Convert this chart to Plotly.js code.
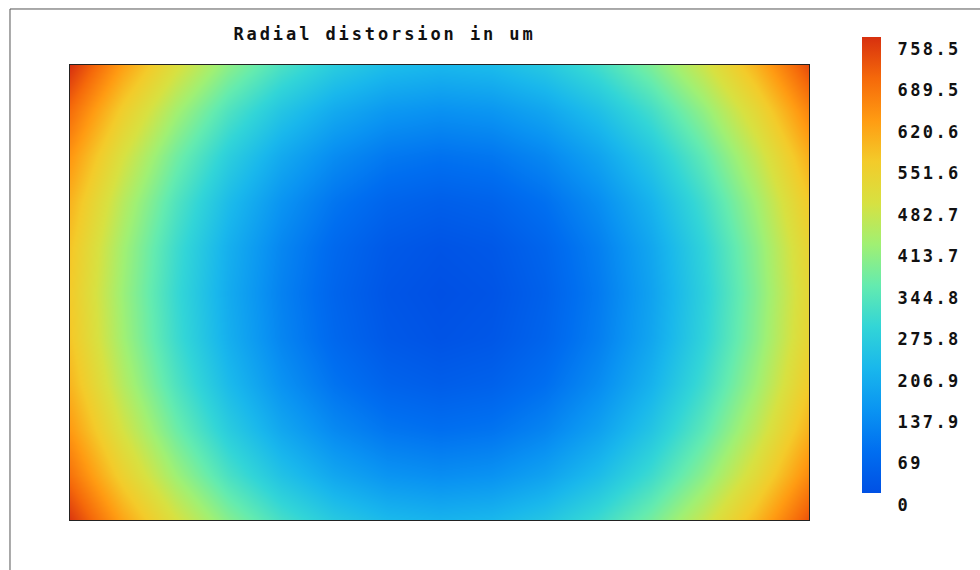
<!DOCTYPE html>
<html>
<head>
<meta charset="utf-8">
<script src="https://cdn.plot.ly/plotly-3.0.1.min.js"></script>
<style>
  html, body { margin: 0; padding: 0; background: #fff; }
  #chart { width: 980px; height: 570px; }
  /* wide, typewriter-like spacing for the title and colour-bar labels */
  .gtitle { letter-spacing: 2.9px; }
  .colorbar text { letter-spacing: 2.4px; }
</style>
</head>
<body>
<div id="chart"></div>
<script>
// Sensor grid sample positions (columns left to right, rows top to bottom)
const gridCols = [0, 1, 2, 3, 4, 5, 6, 7, 8, 9, 10, 11, 12, 13, 14];
const gridRows = [0, 1, 2, 3, 4, 5, 6, 7, 8, 9, 10];

// Radial distortion (um) sampled on the grid, one array per row
const row0  = [758.5, 614, 492, 391, 312, 255, 220, 207, 216, 246, 299, 373, 469, 587, 726];
const row1  = [684, 540, 418, 317, 238, 181, 146, 133, 142, 172, 225, 299, 395, 513, 652];
const row2  = [627, 483, 361, 260, 181, 124, 89, 76, 85, 115, 168, 242, 338, 456, 595];
const row3  = [585, 441, 319, 218, 139, 82, 47, 34, 43, 73, 126, 200, 296, 414, 553];
const row4  = [560, 416, 294, 193, 114, 57, 22, 9, 18, 48, 101, 175, 271, 389, 528];
const row5  = [551, 407, 285, 184, 105, 48, 13, 0, 9, 39, 92, 166, 262, 380, 519];
const row6  = [558, 414, 292, 191, 112, 55, 20, 7, 16, 46, 99, 173, 269, 387, 526];
const row7  = [582, 438, 316, 215, 136, 79, 44, 31, 40, 70, 123, 197, 293, 411, 550];
const row8  = [621, 477, 355, 254, 175, 118, 83, 70, 79, 109, 162, 236, 332, 450, 589];
const row9  = [677, 533, 411, 310, 231, 174, 139, 126, 135, 165, 218, 292, 388, 506, 645];
const row10 = [750, 606, 484, 383, 304, 247, 212, 199, 208, 238, 291, 365, 461, 579, 718];

// Colour bar scale
const zMin = 0;
const zMax = 758.5;
const cbTickVals = [0, 68.95, 137.9, 206.85, 275.8, 344.75, 413.7, 482.65, 551.6, 620.55, 689.5, 758.5];
const cbTickText = ['0', '69', '137.9', '206.9', '275.8', '344.8', '413.7', '482.7', '551.6', '620.6', '689.5', '758.5'];

const zGrid = [row0, row1, row2, row3, row4, row5, row6, row7, row8, row9, row10];

const colorscale = [
  [0.000, 'rgb(0,80,228)'],
  [0.091, 'rgb(0,110,240)'],
  [0.182, 'rgb(10,148,242)'],
  [0.273, 'rgb(25,183,236)'],
  [0.364, 'rgb(50,213,215)'],
  [0.455, 'rgb(100,235,175)'],
  [0.545, 'rgb(160,240,115)'],
  [0.636, 'rgb(215,225,65)'],
  [0.727, 'rgb(243,203,42)'],
  [0.818, 'rgb(255,155,18)'],
  [0.909, 'rgb(245,105,10)'],
  [1.000, 'rgb(215,48,15)']
];

const monoFont = 'DejaVu Sans Mono, Liberation Mono, monospace';

// a leading no-break space keeps the labels clear of the bar
const cbLabels = cbTickText.map(t => '\u00a0' + t);

const trace = {
  type: 'heatmap',
  x: gridCols,
  y: gridRows,
  z: zGrid,
  zmin: zMin,
  zmax: zMax,
  zsmooth: 'best',
  colorscale: colorscale,
  hoverinfo: 'skip',
  colorbar: {
    thickness: 19,
    thicknessmode: 'pixels',
    len: 456,
    lenmode: 'pixels',
    x: 1.0717,
    xref: 'paper',
    xanchor: 'left',
    xpad: 0,
    y: 0.0593,
    yref: 'paper',
    yanchor: 'bottom',
    ypad: 0,
    outlinewidth: 0,
    borderwidth: 0,
    tickmode: 'array',
    tickvals: cbTickVals,
    ticktext: cbLabels,
    ticks: '',
    ticklabelposition: 'outside bottom',
    tickfont: { family: monoFont, size: 17, color: '#111', weight: 'bold' }
  }
};

const layout = {
  width: 980,
  height: 570,
  margin: { l: 70, r: 171, t: 65, b: 50 },
  paper_bgcolor: '#fff',
  plot_bgcolor: '#fff',
  title: {
    text: 'Radial distorsion in um',
    font: { family: monoFont, size: 17, color: '#111', weight: 'bold' },
    xref: 'paper',
    x: 0.4256,
    xanchor: 'center',
    yref: 'container',
    y: 0.94,
    yanchor: 'middle'
  },
  xaxis: {
    range: [0, 14],
    showgrid: false,
    zeroline: false,
    showticklabels: false,
    ticks: '',
    showline: true,
    mirror: true,
    linecolor: '#222',
    linewidth: 1
  },
  yaxis: {
    range: [10, 0],
    showgrid: false,
    zeroline: false,
    showticklabels: false,
    ticks: '',
    showline: true,
    mirror: true,
    linecolor: '#222',
    linewidth: 1
  },
  shapes: [
    {
      // outer frame of the figure (runs off the right and bottom edges)
      type: 'rect',
      xref: 'paper', yref: 'paper',
      x0: -0.0812, x1: 1.40,
      y0: -0.25, y1: 1.1231,
      line: { color: '#555', width: 1 },
      fillcolor: 'rgba(0,0,0,0)',
      layer: 'below'
    }
  ]
};

Plotly.newPlot('chart', [trace], layout, { displayModeBar: false, staticPlot: true });
</script>
</body>
</html>
